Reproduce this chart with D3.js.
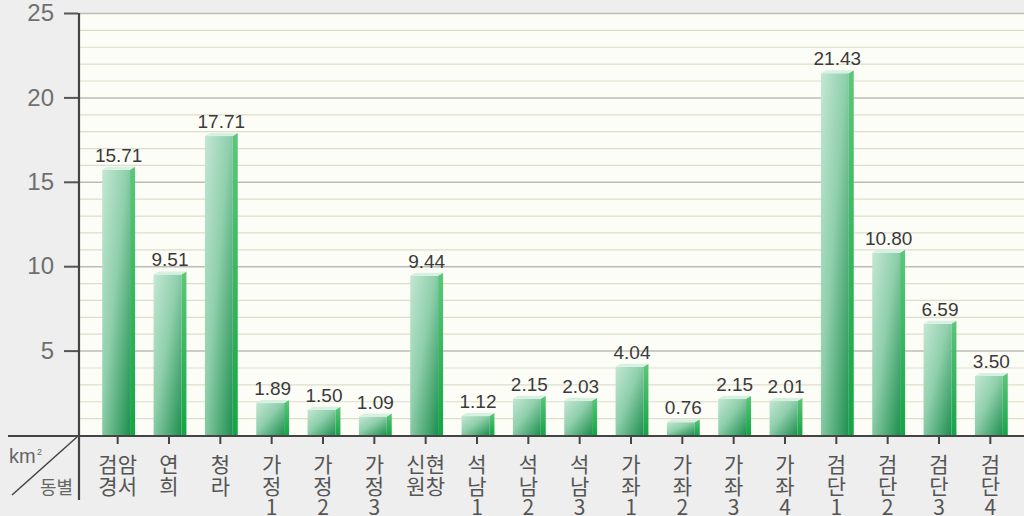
<!DOCTYPE html>
<html>
<head>
<meta charset="utf-8">
<script src="https://cdn.jsdelivr.net/npm/d3@7"></script>
<style>
  html, body { margin: 0; padding: 0; background: #eeeeee; }
  #graphic { width: 1024px; height: 516px; }
  text { font-family: "Liberation Sans", Arial, "Noto Sans CJK KR", sans-serif; }
  .kr { font-family: "Noto Sans CJK KR", "Liberation Sans", sans-serif; }
</style>
</head>
<body>
<div id="graphic"></div>
<script>
// areas by dong (km2)
const dongs = ["검암경서", "연희", "청라", "가정1", "가정2", "가정3", "신현원창",
  "석남1", "석남2", "석남3", "가좌1", "가좌2", "가좌3", "가좌4",
  "검단1", "검단2", "검단3", "검단4"];
const dongLines = [["검암", "경서"], ["연", "희"], ["청", "라"], ["가", "정", "1"], ["가", "정", "2"],
  ["가", "정", "3"], ["신현", "원창"], ["석", "남", "1"], ["석", "남", "2"], ["석", "남", "3"],
  ["가", "좌", "1"], ["가", "좌", "2"], ["가", "좌", "3"], ["가", "좌", "4"],
  ["검", "단", "1"], ["검", "단", "2"], ["검", "단", "3"], ["검", "단", "4"]];
const areas = [15.71, 9.51, 17.71, 1.89, 1.50, 1.09, 9.44, 1.12, 2.15, 2.03,
  4.04, 0.76, 2.15, 2.01, 21.43, 10.80, 6.59, 3.50];
const yTicks = [5, 10, 15, 20, 25];

const data = dongs.map((d, i) => ({ key: d, lines: dongLines[i], value: areas[i] }));

const W = 1024, H = 516;
const plotLeft = 79, plotRight = 1024, plotTop = 13, base = 435;

const svg = d3.select("#graphic").append("svg")
  .attr("width", W).attr("height", H);

const defs = svg.append("defs");
const grad = defs.append("linearGradient")
  .attr("id", "barFront")
  .attr("x1", 0).attr("y1", 0).attr("x2", 1).attr("y2", 1);
grad.append("stop").attr("offset", "0%").attr("stop-color", "#c3e7d3");
grad.append("stop").attr("offset", "45%").attr("stop-color", "#8fcfac");
grad.append("stop").attr("offset", "100%").attr("stop-color", "#1f8f4f");

const sideGrad = defs.append("linearGradient")
  .attr("id", "barSide")
  .attr("x1", 0).attr("y1", 0).attr("x2", 0).attr("y2", 1);
sideGrad.append("stop").attr("offset", "0%").attr("stop-color", "#5cc77a");
sideGrad.append("stop").attr("offset", "100%").attr("stop-color", "#13a545");

const x = d3.scaleBand()
  .domain(dongs)
  .range([93, 1017])
  .paddingInner(0.36)
  .paddingOuter(0.18);

const y = d3.scaleLinear()
  .domain([0, 25])
  .range([base, plotTop]);

// plot background
svg.append("rect")
  .attr("x", plotLeft).attr("y", plotTop)
  .attr("width", plotRight - plotLeft).attr("height", base - plotTop)
  .attr("fill", "#fdfdf8");

// grid lines, every 1, darker every 5
const grid = svg.append("g").attr("class", "grid");
grid.selectAll("line")
  .data(d3.range(1, 26))
  .enter().append("line")
  .attr("x1", plotLeft).attr("x2", plotRight)
  .attr("y1", d => y(d) + 0.5).attr("y2", d => y(d) + 0.5)
  .attr("stroke", d => d % 5 === 0 ? "#bdbdb5" : "#ddddc8")
  .attr("stroke-width", d => d % 5 === 0 ? 1.5 : 1.2);

// bars
const depth = 5, rise = 3;
const bars = svg.append("g").attr("class", "bars")
  .selectAll("g").data(data).enter().append("g");

bars.append("rect")
  .attr("x", d => x(d.key))
  .attr("y", d => y(d.value))
  .attr("width", x.bandwidth() - depth)
  .attr("height", d => base - y(d.value))
  .attr("fill", "url(#barFront)");

bars.append("polygon")
  .attr("points", d => {
    const x1 = x(d.key) + x.bandwidth() - depth, t = y(d.value);
    return [[x1, t], [x1 + depth, t - rise], [x1 + depth, base], [x1, base]].join(" ");
  })
  .attr("fill", "url(#barSide)");

bars.append("polygon")
  .attr("points", d => {
    const x0 = x(d.key), x1 = x0 + x.bandwidth() - depth, t = y(d.value);
    return [[x0, t], [x0 + depth, t - rise], [x1 + depth, t - rise], [x1, t]].join(" ");
  })
  .attr("fill", "#d8f0e2");

bars.append("text")
  .attr("x", d => x(d.key) + x.bandwidth() / 2)
  .attr("y", d => y(d.value) - 8)
  .attr("text-anchor", "middle")
  .attr("font-size", 19)
  .attr("fill", "#3a3a3a")
  .text(d => d.value.toFixed(2));

// y axis
const yAxis = d3.axisLeft(y).tickValues(yTicks).tickSize(14).tickPadding(10).tickFormat(d3.format("d"));
const yg = svg.append("g")
  .attr("transform", `translate(${plotLeft - 1},0)`)
  .call(yAxis);
yg.select(".domain").remove();
yg.selectAll(".tick line").attr("stroke", "#555").attr("stroke-width", 2);
yg.selectAll(".tick text")
  .attr("font-size", 24).attr("fill", "#707070")
  .style("font-family", "'Liberation Sans', Arial, sans-serif");

svg.append("line")
  .attr("x1", plotLeft).attr("x2", plotLeft)
  .attr("y1", plotTop).attr("y2", 500)
  .attr("stroke", "#444").attr("stroke-width", 2.2);

// x axis
svg.append("line")
  .attr("x1", 8).attr("x2", plotRight)
  .attr("y1", base + 1).attr("y2", base + 1)
  .attr("stroke", "#444").attr("stroke-width", 2.2);

const cx = d => x(d.key) + x.bandwidth() / 2 - 1;

const xt = svg.append("g").attr("class", "xticks");
xt.selectAll("line").data(data).enter().append("line")
  .attr("x1", cx).attr("x2", cx)
  .attr("y1", base).attr("y2", base + 9)
  .attr("stroke", "#444").attr("stroke-width", 2);

const lbl = xt.selectAll("text").data(data).enter().append("text")
  .attr("class", "kr")
  .attr("text-anchor", "middle")
  .attr("font-size", 21)
  .attr("fill", "#555");
lbl.selectAll("tspan").data(d => d.lines.map(l => ({ l, cx: cx(d) })))
  .enter().append("tspan")
  .attr("x", d => d.cx)
  .attr("y", (d, i) => 472 + i * 21.5)
  .text(d => d.l);

// corner label
svg.append("line")
  .attr("x1", 12).attr("y1", 495)
  .attr("x2", 77).attr("y2", 437)
  .attr("stroke", "#444").attr("stroke-width", 1.5);
svg.append("text")
  .attr("x", 9).attr("y", 463)
  .attr("font-size", 20).attr("fill", "#666")
  .text("km");
svg.append("text")
  .attr("x", 37).attr("y", 455)
  .attr("font-size", 9).attr("fill", "#666")
  .text("2");
svg.append("text")
  .attr("class", "kr")
  .attr("x", 73).attr("y", 494)
  .attr("text-anchor", "end")
  .attr("font-size", 18).attr("fill", "#666")
  .text("동별");
</script>
</body>
</html>
